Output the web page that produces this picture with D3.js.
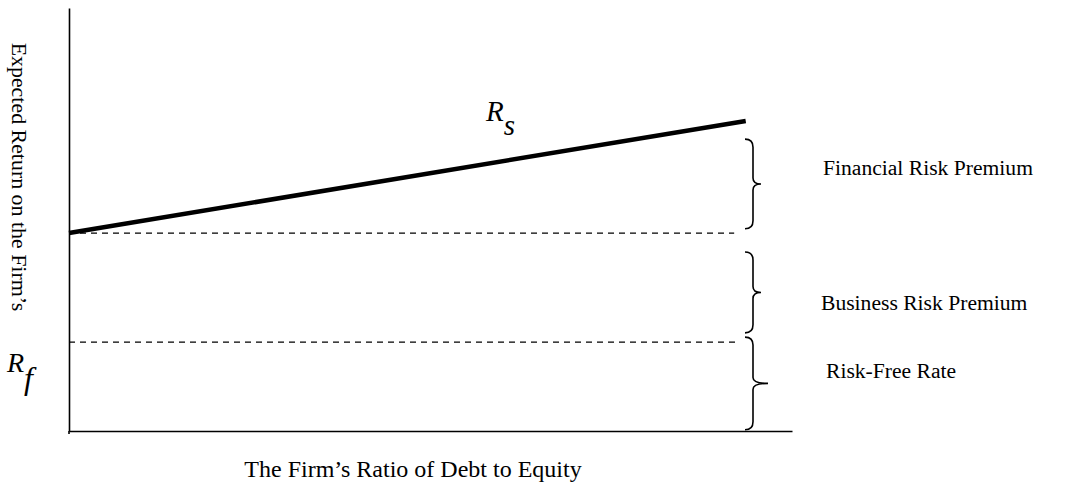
<!DOCTYPE html>
<html>
<head>
<meta charset="utf-8">
<script src="https://cdn.jsdelivr.net/npm/d3@7"></script>
<style>
  body { margin: 0; background: #fff; }
  svg text { font-family: "Liberation Serif", "Times New Roman", serif; fill: #000; }
</style>
</head>
<body>
<svg id="chart" width="1071" height="482"></svg>
<script>
// debt/equity on x (0..1), expected return on y (0..100)
var rsLine = [[0, 46.8], [0.936, 73.3]];
var levels = [
  { name: "business", value: 46.8, end: 0.92 },
  { name: "riskFree", value: 21.0, end: 0.925 }
];
// brace spans [top, bottom] in return units, with the label beside it
var braces = [
  { label: "Financial Risk Premium", top: 69.0, bottom: 47.8, tip: 8 },
  { label: "Business Risk Premium", top: 42.3, bottom: 23.2, tip: 8 },
  { label: "Risk-Free Rate", top: 22.2, bottom: 0.3, tip: 15 }
];
var xTitle = "The Firm\u2019s Ratio of Debt to Equity";
var yTitle = "Expected Return on the Firm\u2019s";

var svg = d3.select("#chart");

var x = d3.scaleLinear().domain([0, 1]).range([69, 792]);
var y = d3.scaleLinear().domain([0, 100]).range([431, 8]);

// axes: just the domain lines, no ticks
svg.append("g")
  .attr("transform", "translate(0," + y(0) + ")")
  .call(d3.axisBottom(x).tickValues([]).tickSizeOuter(0))
  .select(".domain").attr("stroke-width", 1.6);

svg.append("g")
  .attr("transform", "translate(" + x(0) + ",0)")
  .call(d3.axisLeft(y).tickValues([]).tickSizeOuter(0))
  .select(".domain").attr("stroke-width", 1.6);

// little overshoot of the y axis below the x axis
svg.append("line")
  .attr("x1", x(0)).attr("x2", x(0))
  .attr("y1", y(0)).attr("y2", y(0) + 3)
  .attr("stroke", "#000").attr("stroke-width", 1.6);

// dashed reference levels
svg.selectAll(".level")
  .data(levels)
  .enter()
  .append("line")
  .attr("class", "level")
  .attr("x1", x(0))
  .attr("x2", d => x(d.end))
  .attr("y1", d => y(d.value))
  .attr("y2", d => y(d.value))
  .attr("stroke", "#000")
  .attr("stroke-width", 1.2)
  .attr("stroke-dasharray", "6,5");

// R_s line
var line = d3.line().x(d => x(d[0])).y(d => y(d[1]));
svg.append("path")
  .datum(rsLine)
  .attr("d", line)
  .attr("fill", "none")
  .attr("stroke", "#000")
  .attr("stroke-width", 4.5);

// curly braces
var braceX = 753;
function bracePath(b) {
  var t = y(b.top), bt = y(b.bottom), m = (t + bt) / 2;
  var p = d3.path();
  p.moveTo(braceX - 8, t);
  p.quadraticCurveTo(braceX, t, braceX, t + 8);
  p.lineTo(braceX, m - 6);
  p.quadraticCurveTo(braceX, m, braceX + b.tip, m);
  p.quadraticCurveTo(braceX, m, braceX, m + 6);
  p.lineTo(braceX, bt - 8);
  p.quadraticCurveTo(braceX, bt, braceX - 8, bt);
  return p.toString();
}

svg.selectAll(".brace")
  .data(braces)
  .enter()
  .append("path")
  .attr("class", "brace")
  .attr("d", bracePath)
  .attr("fill", "none")
  .attr("stroke", "#000")
  .attr("stroke-width", 1.6);

var labelPos = [[823, 175], [821, 310], [826, 378]];
svg.selectAll(".brace-label")
  .data(braces)
  .enter()
  .append("text")
  .attr("class", "brace-label")
  .attr("x", (d, i) => labelPos[i][0])
  .attr("y", (d, i) => labelPos[i][1])
  .attr("font-size", 21.6)
  .text(d => d.label);

// axis titles
svg.append("text")
  .attr("x", 413)
  .attr("y", 477)
  .attr("text-anchor", "middle")
  .attr("font-size", 24)
  .text(xTitle);

svg.append("text")
  .attr("transform", "translate(12,177) rotate(90)")
  .attr("text-anchor", "middle")
  .attr("font-size", 21.9)
  .text(yTitle);

// R_s and R_f symbols
var rs = svg.append("text")
  .attr("x", 486)
  .attr("y", 121)
  .attr("font-size", 29)
  .attr("font-style", "italic");
rs.append("tspan").text("R");
rs.append("tspan").attr("dy", 14).text("s");

var rf = svg.append("text")
  .attr("x", 7)
  .attr("y", 372)
  .attr("font-size", 28)
  .attr("font-style", "italic");
rf.append("tspan").text("R");
rf.append("tspan").attr("dy", 17).attr("font-size", 32).text("f");
</script>
</body>
</html>
